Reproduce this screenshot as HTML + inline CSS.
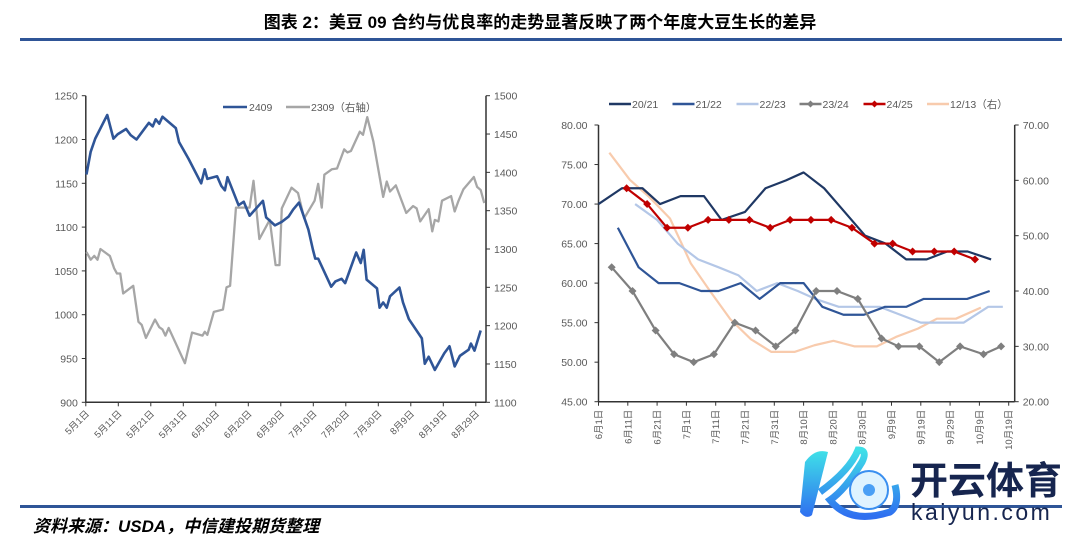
<!DOCTYPE html>
<html><head><meta charset="utf-8"><style>
body{margin:0;background:#fff;}
svg text{font-family:"Liberation Sans","Noto Sans CJK SC",sans-serif;}
</style></head><body>
<svg id="s" width="1080" height="547" viewBox="0 0 1080 547" xmlns="http://www.w3.org/2000/svg">
<text x="540" y="28" text-anchor="middle" font-size="17" font-weight="bold" fill="#000">图表 2：美豆 09 合约与优良率的走势显著反映了两个年度大豆生长的差异</text>
<rect x="20" y="38" width="1042" height="3" fill="#2f5597"/>
<rect x="20" y="505" width="1042" height="3" fill="#2f5597"/>
<text x="33" y="532" font-size="17" font-weight="bold" font-style="italic" fill="#000">资料来源：USDA，中信建投期货整理</text>
<g id="left"></g>
<g id="right"></g>
<g>
<defs><linearGradient id="kg" x1="0" y1="0" x2="0" y2="1"><stop offset="0" stop-color="#3fe0e8"/><stop offset="1" stop-color="#2f6ff0"/></linearGradient></defs>
<path d="M805 462 Q815 448 828 452 L812 515 Q806 520 800 512 Z" fill="url(#kg)"/>
<path d="M820 492 Q850 470 858 450 Q868 450 862 462 Q845 490 830 500 Q850 525 890 512 Q900 505 895 485" fill="none" stroke="url(#kg)" stroke-width="7"/>
<circle cx="869" cy="490" r="19" fill="#dff3ff" stroke="#3a8ff0" stroke-width="2"/>
<circle cx="869" cy="490" r="6" fill="#4a9ff5"/>
<text x="910" y="494" font-size="38" font-weight="bold" fill="#16254f" font-family="'Noto Sans CJK SC',sans-serif">开云体育</text>
<text x="911" y="520" font-size="23" fill="#16254f" letter-spacing="2.5">kaiyun.com</text>
</g>
</svg>
<script>
// ---------- Left chart data ----------
const leftXTicks = ["5月1日","5月11日","5月21日","5月31日","6月10日","6月20日","6月30日","7月10日","7月20日","7月30日","8月9日","8月19日","8月29日"];
const leftYTicks = [900,950,1000,1050,1100,1150,1200,1250];
const leftY2Ticks = [1100,1150,1200,1250,1300,1350,1400,1450,1500];
const s2409Days = [0.2,1.5,2.9,6.6,8.5,9.8,12.4,13.8,15.6,19.4,20.6,21.5,22.6,23.6,27.7,28.7,31.6,35.5,36.6,37.4,40.4,41.7,42.8,43.6,47,48.6,50.4,54.5,55.5,58.2,60.3,62.4,63.8,65.6,68.5,69.9,70.6,71.5,75.5,76.8,78.7,79.8,83.2,84.6,85.5,86.4,89.6,90.4,91.5,92.6,93.6,96.5,97.6,99.4,103.4,104.3,105.5,107.4,110.3,111.9,113.5,115.1,117.8,118.5,119.6,121.5];
const s2409Vals = [1160,1186,1201,1228,1201,1206,1212,1205,1200,1219,1215,1223,1218,1226,1213,1197,1178,1150,1166,1155,1158,1147,1142,1157,1125,1129,1113,1130,1111,1102,1106,1112,1120,1128,1097,1074,1064,1064,1032,1038,1041,1036,1071,1059,1074,1040,1030,1008,1014,1008,1021,1031,1014,995,973,944,952,937,956,964,941,953,960,967,959,982];
const s2309Days = [0.2,1.5,2.6,3.6,4.5,7.4,8.7,9.6,10.6,11.5,14.6,16.2,17.2,18.5,21.3,22.6,23.6,24.5,25.5,30.5,32.7,35.9,36.6,37.4,39.4,42.2,43.3,44.4,46.2,49.1,50.4,51.6,53.4,56.6,58.4,59.6,60.3,63.3,65.3,67.2,70.4,71.5,72.6,73.4,75.7,77.3,79.5,80.5,81.6,84.3,85.3,86.6,88.5,91.5,92.6,93.6,95.4,98.6,100.7,101.8,102.9,105.5,106.6,107.4,108.5,109.6,112.4,113.5,114.6,116.2,119.4,120.4,121.5,122.6];
const s2309Vals = [1296,1286,1291,1286,1300,1291,1275,1268,1268,1242,1252,1205,1201,1184,1208,1198,1195,1187,1197,1151,1191,1187,1192,1188,1218,1221,1250,1252,1354,1354,1354,1389,1313,1338,1279,1279,1353,1380,1373,1340,1363,1385,1354,1397,1404,1405,1430,1426,1428,1453,1449,1472,1440,1368,1388,1375,1383,1347,1356,1353,1336,1352,1323,1338,1336,1363,1369,1349,1362,1378,1394,1381,1377,1360];

// ---------- Right chart data ----------
const rightXTicks = ["6月1日","6月11日","6月21日","7月1日","7月11日","7月21日","7月31日","8月10日","8月20日","8月30日","9月9日","9月19日","9月29日","10月9日","10月19日"];
const rightYTicks = [45,50,55,60,65,70,75,80];
const rightY2Ticks = [20,30,40,50,60,70];
const y2021Days = [0,8,15,21,28,36,42,50,57,64,70,77,84,91,98,105,112,119,126,134];
const y2021Vals = [70,72,72,70,71,71,68,69,72,73,74,72,69,66,65,63,63,64,64,63];
const y2122Days = [6.6,13.7,20.5,27.6,35,41,48.5,55,62,70,76.4,83.6,90.6,97.8,105,111,118.7,125.8,133.5];
const y2122Vals = [67,62,60,60,59,59,60,58,60,60,57,56,56,57,57,58,58,58,59];
const y2223Days = [12.5,20,27,34,41,47.7,54,61,68,74,82,88.5,96,103,110,117.5,124.6,133,138];
const y2223Vals = [70,68,65,63,62,61,59,60,59,58,57,57,57,56,55,55,55,57,57];
const y2324Days = [4.5,11.6,19.5,25.8,32.5,39.4,46.5,53.6,60.5,67.2,74.3,81.4,88.5,96.6,102.4,109.5,116.3,123.4,131.4,137.4];
const y2324Vals = [62,59,54,51,50,51,55,54,52,54,59,59,58,53,52,52,50,52,51,52];
const y2425Days = [9.6,16.6,23.4,30.5,37.4,44.5,51.5,58.6,65.4,72.5,79.4,86.5,94.2,100.4,107.2,114.6,121.4,128.5];
const y2425Vals = [72,70,67,67,68,68,68,67,68,68,68,67,65,65,64,64,64,63];
const y1213Days = [3.7,10.7,17.3,24.4,31.5,38.2,45,52,59,66.9,73.7,80.2,87.3,95,101.5,109,115.5,122,130.5];
const y1213Vals = [65,60.1,57,53.1,45,39.9,34.9,31.3,29,29,30.2,31,30,30,31.7,33.2,35,35,37];

const NS='http://www.w3.org/2000/svg';
function mk(parent,tag,attrs){const e=document.createElementNS(NS,tag);for(const k in attrs)e.setAttribute(k,attrs[k]);parent.appendChild(e);return e;}

// ===== Left chart =====
(function(){
const g=document.getElementById('left');
const X0=85.8,X1=486,Y0=402.3,Y1=95.7,dayPx=3.25;
const xs=d=>X0+d*dayPx;
const ys=v=>Y0-(v-900)/(1250-900)*(Y0-Y1);
const ys2=v=>Y0-(v-1100)/(1500-1100)*(Y0-Y1);
let a=mk(g,'line',{x1:X0,y1:Y1,x2:X0,y2:Y0,stroke:'#333','stroke-width':1.5});

a=mk(g,'line',{x1:X1,y1:Y1,x2:X1,y2:Y0,stroke:'#333','stroke-width':1.5});

a=mk(g,'line',{x1:X0,y1:Y0,x2:X1,y2:Y0,stroke:'#333','stroke-width':1.5});

leftYTicks.forEach(v=>{const y=ys(v);
 let t=mk(g,'line',{x1:X0-4,y1:y,x2:X0,y2:y,stroke:'#333'});
 t=mk(g,'text',{x:X0-8,y:y+4,'text-anchor':'end','font-size':10.5,fill:'#595959'});t.textContent=v;});
leftY2Ticks.forEach(v=>{const y=ys2(v);
 let t=mk(g,'line',{x1:X1,y1:y,x2:X1+4,y2:y,stroke:'#333'});
 t=mk(g,'text',{x:X1+8,y:y+4,'font-size':10.5,fill:'#595959'});t.textContent=v;});
leftXTicks.forEach((l,i)=>{const x=xs(i*10);
 let t=mk(g,'line',{x1:x,y1:Y0,x2:x,y2:Y0+4,stroke:'#333'});
 t=mk(g,'text',{x:x+4,y:Y0+12,'text-anchor':'end','font-size':9.5,fill:'#595959',transform:`rotate(-45 ${x+4} ${Y0+12})`});t.textContent=l;});
let p=mk(g,'polyline',{points:s2309Days.map((d,i)=>xs(d)+','+ys2(s2309Vals[i])).join(' '),fill:'none',stroke:'#a6a6a6','stroke-width':2.3,'stroke-linejoin':'round'});

p=mk(g,'polyline',{points:s2409Days.map((d,i)=>xs(d)+','+ys(s2409Vals[i])).join(' '),fill:'none',stroke:'#2f5597','stroke-width':2.6,'stroke-linejoin':'round'});

// legend
let l=mk(g,'line',{x1:223,y1:107,x2:247,y2:107,stroke:'#2f5597','stroke-width':2.6});
l=mk(g,'text',{x:249,y:111,'font-size':10.5,fill:'#595959'});l.textContent='2409';
l=mk(g,'line',{x1:286,y1:107,x2:310,y2:107,stroke:'#a6a6a6','stroke-width':2.6});
l=mk(g,'text',{x:311,y:111,'font-size':10.5,fill:'#595959'});l.textContent='2309（右轴）';
})();

// ===== Right chart =====
(function(){
const g=document.getElementById('right');
const X0=598.5,X1=1014.7,Y0=401.7,Y1=125,dayPx=2.93;
const xs=d=>X0+d*dayPx;
const ys=v=>Y0-(v-45)/(80-45)*(Y0-Y1);
const ys2=v=>Y0-(v-20)/(70-20)*(Y0-Y1);
let a=mk(g,'line',{x1:X0,y1:Y1,x2:X0,y2:Y0,stroke:'#333','stroke-width':1.5});

a=mk(g,'line',{x1:X1,y1:Y1,x2:X1,y2:Y0,stroke:'#333','stroke-width':1.5});

a=mk(g,'line',{x1:X0,y1:Y0,x2:X1,y2:Y0,stroke:'#333','stroke-width':1.5});

rightYTicks.forEach(v=>{const y=ys(v);
 let t=mk(g,'line',{x1:X0-4,y1:y,x2:X0,y2:y,stroke:'#333'});
 t=mk(g,'text',{x:X0-11,y:y+4,'text-anchor':'end','font-size':10.5,fill:'#595959'});t.textContent=v.toFixed(2);});
rightY2Ticks.forEach(v=>{const y=ys2(v);
 let t=mk(g,'line',{x1:X1,y1:y,x2:X1+4,y2:y,stroke:'#333'});
 t=mk(g,'text',{x:X1+8,y:y+4,'font-size':10.5,fill:'#595959'});t.textContent=v.toFixed(2);});
rightXTicks.forEach((l,i)=>{const x=xs(i*10);
 let t=mk(g,'line',{x1:x,y1:Y0,x2:x,y2:Y0+4,stroke:'#333'});
 t=mk(g,'text',{x:x+3.5,y:Y0+8,'text-anchor':'end','font-size':9.5,fill:'#595959',transform:`rotate(-90 ${x+3.5} ${Y0+8})`});t.textContent=l;});
function line(days,vals,scale,color,w,name){
 const p=mk(g,'polyline',{points:days.map((d,i)=>xs(d)+','+scale(vals[i])).join(' '),fill:'none',stroke:color,'stroke-width':w,'stroke-linejoin':'round'});
 }
function markers(days,vals,color,name){
 days.forEach((d,i)=>{const x=xs(d),y=ys(vals[i]);
  const m=mk(g,'path',{d:`M${x} ${y-4}L${x+4} ${y}L${x} ${y+4}L${x-4} ${y}Z`,fill:color});
  });}
line(y1213Days,y1213Vals,ys2,'#f8cbad',2.2,'series-12-13');
line(y2223Days,y2223Vals,ys,'#b4c7e7',2.2,'series-22-23');
line(y2122Days,y2122Vals,ys,'#2f5597',2.2,'series-21-22');
line(y2324Days,y2324Vals,ys,'#7f7f7f',2.2,'series-23-24');
markers(y2324Days,y2324Vals,'#7f7f7f','marker-23-24');
line(y2021Days,y2021Vals,ys,'#1f3864',2.2,'series-20-21');
line(y2425Days,y2425Vals,ys,'#c00000',2.2,'series-24-25');
markers(y2425Days,y2425Vals,'#c00000','marker-24-25');
// legend
const leg=[['20/21','#1f3864',609,false],['21/22','#2f5597',672.5,false],['22/23','#b4c7e7',736.5,false],['23/24','#7f7f7f',799.5,true],['24/25','#c00000',863.5,true],['12/13（右）','#f8cbad',927,false]];
leg.forEach(e=>{const y=104;
 let s=mk(g,'line',{x1:e[2],y1:y,x2:e[2]+22,y2:y,stroke:e[1],'stroke-width':2.4});
 if(e[3]){const c=e[2]+11;s=mk(g,'path',{d:`M${c} ${y-3.5}L${c+3.5} ${y}L${c} ${y+3.5}L${c-3.5} ${y}Z`,fill:e[1]});}
 s=mk(g,'text',{x:e[2]+23,y:y+4,'font-size':10.5,fill:'#595959'});s.textContent=e[0];});
})();
</script>
</body></html>
